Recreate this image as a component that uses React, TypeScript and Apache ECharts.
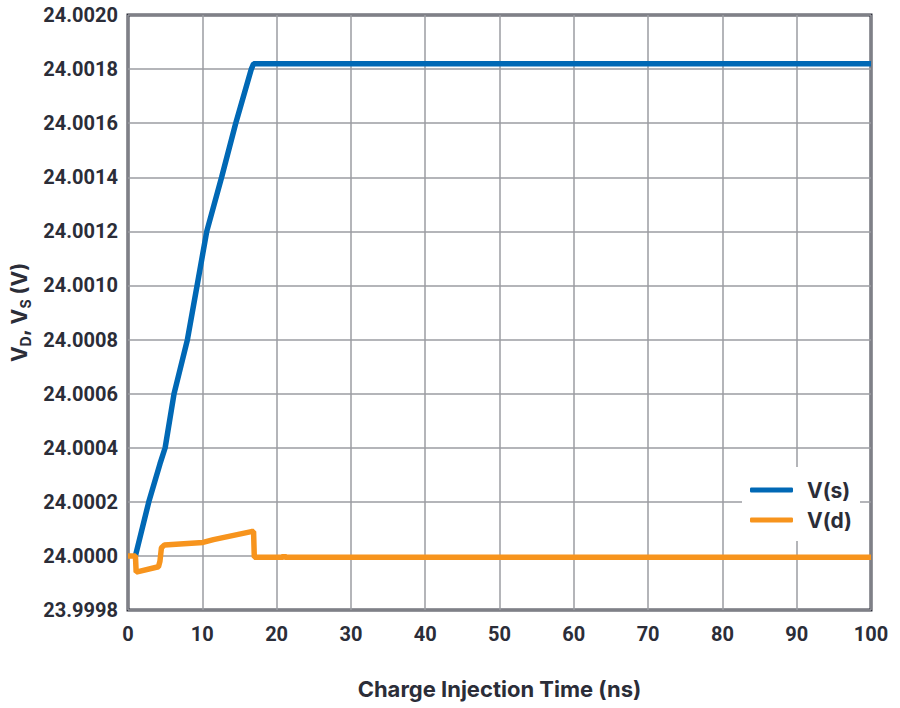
import React, { useEffect, useRef } from "react";
import * as echarts from "echarts";

const sTime = [1.0, 2.8, 4.3, 5.0, 6.2, 8.0, 9.3, 10.6, 12.6, 14.5, 16.6, 16.9, 100];
const sVolt = [24.0, 24.0002, 24.00034, 24.0004, 24.0006, 24.0008, 24.001, 24.0012, 24.0014, 24.0016, 24.0018, 24.00182, 24.00182];

const dTime = [0, 1.0, 1.1, 4.1, 4.3, 4.5, 4.9, 10.1, 11.5, 16.6, 16.9, 17.0, 20.9, 21.0, 21.1, 100];
const dVolt = [24.0, 24.0, 23.99994, 23.99996, 23.99998, 24.00003, 24.00004, 24.00005, 24.00006, 24.00009, 24.00009, 23.999995, 23.999995, 24.000004, 23.999995, 23.999995];

const seriesNames = ["V(s)", "V(d)"];
const xTitle = "Charge Injection Time (ns)";

const TEXT = "#2b2d38";
const FONT = "Roboto";
const TFONT = "Inter";

export default function App() {
  const ref = useRef<HTMLDivElement>(null);
  useEffect(() => {
    if (!ref.current) return;
    const chart = echarts.init(ref.current, null, { renderer: "svg" });
    chart.setOption({
      animation: false,
      backgroundColor: "#ffffff",
      textStyle: { fontFamily: FONT },
      grid: {
        left: 128,
        right: 29,
        top: 15,
        bottom: 98,
        outerBoundsMode: "none",
        containLabel: false,
        show: true,
        borderColor: "#2d2f3a",
        borderWidth: 3,
        backgroundColor: "transparent",
      },
      legend: {
        orient: "vertical",
        left: 742,
        top: 467,
        backgroundColor: "#ffffff",
        padding: [8, 8, 6, 8],
        icon: "roundRect",
        itemWidth: 43,
        itemHeight: 5,
        itemGap: 0,
        data: seriesNames,
        textStyle: {
          color: TEXT,
          fontSize: 21,
          fontWeight: "bold",
          fontFamily: TFONT,
          lineHeight: 30,
          padding: [0, 0, 0, 9],
        },
      },
      xAxis: {
        type: "value",
        min: 0,
        max: 100,
        interval: 10,
        name: xTitle,
        nameLocation: "middle",
        nameGap: 68,
        nameTextStyle: { color: TEXT, fontSize: 22, fontWeight: "bold", fontFamily: TFONT },
        axisLine: { show: false },
        axisTick: { show: false },
        axisLabel: { color: TEXT, fontSize: 20, fontWeight: "bold", fontFamily: FONT, margin: 14 },
        splitLine: { show: true, lineStyle: { color: "#9b9ca2", width: 1.5 } },
      },
      yAxis: {
        type: "value",
        min: 23.9998,
        max: 24.002,
        interval: 0.0002,
        name: "{a|V}{sub|D}{a|, V}{sub|S}{a| (V)}",
        nameLocation: "middle",
        nameGap: 94,
        nameTextStyle: {
          color: TEXT,
          fontFamily: TFONT,
          rich: {
            a: { fontSize: 21, fontWeight: "bold", color: TEXT, fontFamily: TFONT, lineHeight: 26 },
            sub: { fontSize: 14, fontWeight: "bold", color: TEXT, fontFamily: TFONT, lineHeight: 26, verticalAlign: "bottom", padding: [8, 0, 0, 0] },
          },
        },
        axisLine: { show: false },
        axisTick: { show: false },
        axisLabel: {
          color: TEXT,
          fontSize: 20,
          fontWeight: "bold",
          fontFamily: FONT,
          margin: 10,
          formatter: (v: number) => v.toFixed(4),
        },
        splitLine: { show: true, lineStyle: { color: "#9b9ca2", width: 1.5 } },
      },
      series: [
        {
          name: seriesNames[0],
          type: "line",
          data: sTime.map((t, i) => [t, sVolt[i]]),
          showSymbol: false,
          symbol: "none",
          lineStyle: { color: "#0068b5", width: 5.5 },
          itemStyle: { color: "#0068b5" },
        },
        {
          name: seriesNames[1],
          type: "line",
          data: dTime.map((t, i) => [t, dVolt[i]]),
          showSymbol: false,
          symbol: "none",
          lineStyle: { color: "#f7941d", width: 5.5 },
          itemStyle: { color: "#f7941d" },
        },
      ],
    });
    return () => chart.dispose();
  }, []);
  return <div ref={ref} style={{ width: 900, height: 708, position: "absolute", left: 0, top: 0 }} />;
}
